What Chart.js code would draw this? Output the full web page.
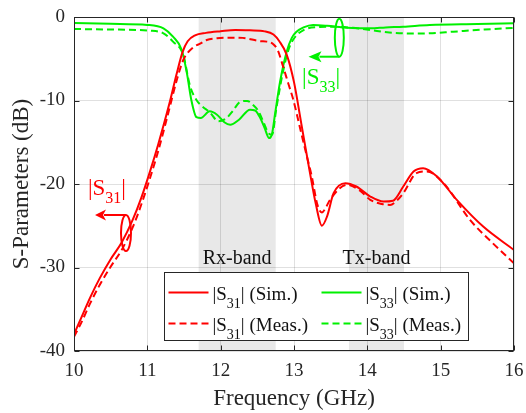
<!DOCTYPE html>
<html><head><meta charset="utf-8">
<script src="https://cdn.jsdelivr.net/npm/chart.js@4.4.1/dist/chart.umd.min.js"></script>
<style>html,body{margin:0;padding:0;background:#fff;}#wrap{width:526px;height:413px;}</style>
</head><body><div id="wrap"><canvas id="c" width="526" height="413"></canvas></div>
<script>
// ---------- data ----------
const xTicks = [10, 11, 12, 13, 14, 15, 16];
const yTicks = [-40, -30, -20, -10, 0];
const xTitle = 'Frequency (GHz)';
const yTitle = 'S-Parameters (dB)';

const s31SimF  = [10.0, 10.1, 10.22, 10.35, 10.5, 10.65, 10.8, 10.92, 11.04, 11.15, 11.3, 11.4, 11.48, 11.55, 11.65, 11.8, 12.0, 12.2, 12.4, 12.6, 12.72, 12.8, 12.9, 13.0, 13.1, 13.2, 13.3, 13.38, 13.45, 13.54, 13.7, 13.85, 14.04, 14.22, 14.35, 14.49, 14.63, 14.76, 14.95, 15.22, 15.58, 16.0];
const s31SimDb = [-38.0, -36.0, -33.6, -31.3, -29.0, -27.0, -24.3, -21.6, -18.4, -15.2, -10.4, -6.8, -4.2, -2.9, -2.2, -1.9, -1.7, -1.55, -1.6, -1.72, -2.1, -2.9, -4.5, -7.8, -12.8, -17.8, -22.5, -25.0, -23.9, -21.1, -19.9, -20.3, -21.5, -22.1, -22.0, -20.3, -18.5, -18.1, -19.1, -21.9, -25.1, -27.9];

const s31MeasF  = [10.0, 10.1, 10.22, 10.35, 10.5, 10.65, 10.8, 10.92, 11.04, 11.15, 11.3, 11.4, 11.49, 11.63, 11.72, 11.81, 11.95, 12.17, 12.3, 12.54, 12.63, 12.71, 12.78, 12.85, 12.92, 12.99, 13.08, 13.17, 13.24, 13.32, 13.38, 13.43, 13.49, 13.72, 13.9, 14.04, 14.2, 14.31, 14.4, 14.49, 14.67, 14.81, 15.04, 15.4, 15.7, 16.0];
const s31MeasDb = [-38.3, -36.6, -34.3, -32.1, -29.9, -27.9, -25.2, -22.4, -19.2, -16.0, -11.0, -7.6, -5.15, -3.6, -3.2, -2.75, -2.55, -2.48, -2.5, -2.9, -2.95, -3.2, -4.0, -5.9, -7.9, -9.9, -13.2, -16.5, -19.0, -22.5, -23.4, -22.9, -21.9, -20.1, -20.8, -21.9, -22.4, -22.5, -22.0, -21.1, -18.7, -18.5, -19.9, -24.3, -27.0, -29.5];

const s33SimF  = [10.0, 10.5, 11.0, 11.22, 11.35, 11.47, 11.54, 11.6, 11.67, 11.73, 11.85, 11.95, 12.05, 12.13, 12.25, 12.4, 12.47, 12.54, 12.6, 12.66, 12.7, 12.74, 12.81, 12.9, 12.97, 13.03, 13.13, 13.26, 13.45, 13.72, 14.04, 14.25, 14.49, 14.85, 15.5, 16.0];
const s33SimDb = [-0.72, -0.82, -0.95, -1.36, -2.36, -3.95, -6.75, -9.94, -12.0, -12.1, -11.3, -11.7, -12.6, -12.9, -12.3, -11.1, -11.2, -12.1, -13.3, -14.5, -14.0, -11.7, -7.75, -4.15, -2.5, -1.8, -1.25, -0.96, -1.05, -1.28, -1.36, -1.25, -1.16, -0.96, -0.85, -0.76];

const s33MeasF  = [10.0, 10.5, 11.04, 11.22, 11.35, 11.49, 11.58, 11.67, 11.75, 11.85, 11.97, 12.08, 12.17, 12.26, 12.36, 12.45, 12.51, 12.58, 12.65, 12.7, 12.76, 12.85, 12.93, 12.99, 13.13, 13.35, 13.58, 13.8, 14.04, 14.3, 14.6, 14.85, 15.17, 15.6, 16.0];
const s33MeasDb = [-1.44, -1.5, -1.64, -1.96, -2.95, -4.55, -8.2, -9.94, -10.7, -11.4, -12.5, -12.1, -11.2, -10.2, -10.05, -10.6, -11.2, -12.5, -13.9, -14.1, -10.9, -6.55, -3.8, -2.7, -1.56, -1.2, -1.16, -1.3, -1.56, -1.85, -1.98, -1.95, -1.76, -1.5, -1.3];

const seriesLabels = ['|S_{31}| (Sim.)', '|S_{31}| (Meas.)', '|S_{33}| (Sim.)', '|S_{33}| (Meas.)'];
const bandNames = ['Rx-band', 'Tx-band'];
const bandFrom = [11.7, 13.75];
const bandTo = [12.75, 14.5];
const curveLabels = ['|S_{31}|', '|S_{33}|'];

// ---------- styling / layout ----------
const FONT = "'Liberation Serif','Times New Roman',serif";
const AXC = '#262626';
const RED = '#ff0000', GREEN = '#00f000';
const pts = (f, d) => f.map((v, i) => ({x: v, y: d[i]}));

function parseRich(s) {
  const out = []; const re = /_\{([^}]*)\}/g; let last = 0, m;
  while ((m = re.exec(s))) {
    if (m.index > last) out.push({t: s.slice(last, m.index), sub: false});
    out.push({t: m[1], sub: true}); last = re.lastIndex;
  }
  if (last < s.length) out.push({t: s.slice(last), sub: false});
  return out;
}
function drawRich(ctx, s, x, y, size, subSize, subDy, color) {
  const segs = parseRich(s);
  ctx.save();
  ctx.textBaseline = 'alphabetic'; ctx.textAlign = 'left'; ctx.fillStyle = color;
  let cx = x;
  segs.forEach(g => {
    ctx.font = (g.sub ? subSize : size) + 'px ' + FONT;
    ctx.fillText(g.t, cx, y + (g.sub ? subDy : 0));
    cx += ctx.measureText(g.t).width;
  });
  ctx.restore();
}

const bandPlugin = {
  id: 'bands',
  beforeDraw(chart) {
    const {ctx, chartArea: a, scales: {x, y}} = chart;
    ctx.save();
    ctx.fillStyle = '#e8e8e8';
    bandFrom.forEach((f, i) => {
      const x0 = x.getPixelForValue(f), x1 = x.getPixelForValue(bandTo[i]);
      ctx.fillRect(x0, a.top, x1 - x0, a.bottom - a.top);
    });
    ctx.restore();
  }
};

const decoPlugin = {
  id: 'deco',
  afterDatasetsDraw(chart) {
    const {ctx, chartArea: a, scales: {x, y}} = chart;
    ctx.save();
    ctx.font = '20px ' + FONT; ctx.fillStyle = '#111'; ctx.textAlign = 'center'; ctx.textBaseline = 'alphabetic';
    bandNames.forEach((n, i) => {
      ctx.fillText(n, x.getPixelForValue((bandFrom[i] + bandTo[i]) / 2), y.getPixelForValue(-29.6));
    });
    const ann = [
      {lab: curveLabels[0], col: RED, tx: 10.19, ty: -21.3, ex: 10.709, ey: -25.87, rx: 5, ry: 18, top: true, tip: 95, ah: 11},
      {lab: curveLabels[1], col: GREEN, tx: 13.11, ty: -8.0, ex: 13.618, ey: -2.48, rx: 4.5, ry: 19, top: false, tip: 308.5, ah: 13}
    ];
    ann.forEach(o => {
      drawRich(ctx, o.lab, x.getPixelForValue(o.tx), y.getPixelForValue(o.ty), 23, 16, 8, o.col);
      const cx = x.getPixelForValue(o.ex), cy = y.getPixelForValue(o.ey);
      ctx.strokeStyle = o.col; ctx.fillStyle = o.col; ctx.lineWidth = 2;
      ctx.beginPath(); ctx.ellipse(cx, cy, o.rx, o.ry, 0, 0, Math.PI * 2); ctx.stroke();
      const ly = o.top ? cy - o.ry : cy + o.ry;
      const tipX = a.left + (o.tip - 74);
      ctx.beginPath(); ctx.moveTo(cx, ly); ctx.lineTo(tipX + o.ah - 2, ly); ctx.stroke();
      ctx.beginPath(); ctx.moveTo(tipX, ly); ctx.lineTo(tipX + o.ah, ly - 5.5); ctx.lineTo(tipX + o.ah - 3, ly); ctx.lineTo(tipX + o.ah, ly + 5.5); ctx.closePath(); ctx.fill();
    });
    ctx.restore();
  },
  afterDraw(chart) {
    const {ctx, chartArea: a, scales: {x, y}} = chart;
    ctx.save();
    ctx.strokeStyle = AXC; ctx.lineWidth = 1;
    const L = Math.round(a.left) + 0.5, R = Math.round(a.right) - 0.5, T = Math.round(a.top) + 0.5, B = Math.round(a.bottom) - 0.5;
    ctx.strokeRect(L, T, R - L, B - T);
    ctx.beginPath();
    xTicks.forEach(v => { const px = Math.round(x.getPixelForValue(v)) + 0.5; ctx.moveTo(px, B); ctx.lineTo(px, B - 5); ctx.moveTo(px, T); ctx.lineTo(px, T + 5); });
    yTicks.forEach(v => { const py = Math.round(y.getPixelForValue(v)) + 0.5; ctx.moveTo(L, py); ctx.lineTo(L + 5, py); ctx.moveTo(R, py); ctx.lineTo(R - 5, py); });
    ctx.stroke();
    const bx = a.left + 90.5, by = a.top + 255.5, bw = 304, bh = 68;
    ctx.fillStyle = '#fff'; ctx.fillRect(bx, by, bw, bh);
    ctx.strokeStyle = AXC; ctx.strokeRect(bx, by, bw, bh);
    const cols = [4, 157], rows = [20, 51];
    chart.data.datasets.forEach((ds, i) => {
      const c = Math.floor(i / 2), r = i % 2;
      const lx = bx + cols[c], ly = by + rows[r];
      ctx.strokeStyle = ds.borderColor; ctx.lineWidth = 2; ctx.setLineDash(ds.borderDash || []);
      ctx.beginPath(); ctx.moveTo(lx, ly); ctx.lineTo(lx + 40, ly); ctx.stroke();
      ctx.setLineDash([]);
      drawRich(ctx, ds.label, lx + 44, ly + 7, 19, 14, 8, '#111');
    });
    ctx.restore();
  }
};

const mkDs = (label, f, d, color, dash) => ({
  label, data: pts(f, d), borderColor: color, backgroundColor: color, borderWidth: 2,
  borderDash: dash ? [7, 4] : [], pointRadius: 0, fill: false, cubicInterpolationMode: 'monotone'
});

new Chart(document.getElementById('c'), {
  type: 'line',
  data: {
    datasets: [
      mkDs(seriesLabels[0], s31SimF, s31SimDb, RED, false),
      mkDs(seriesLabels[1], s31MeasF, s31MeasDb, RED, true),
      mkDs(seriesLabels[2], s33SimF, s33SimDb, GREEN, false),
      mkDs(seriesLabels[3], s33MeasF, s33MeasDb, GREEN, true)
    ]
  },
  options: {
    responsive: false, animation: false, devicePixelRatio: 1,
    layout: {padding: {left: 0, right: 12, top: 17, bottom: 0}},
    plugins: {legend: {display: false}, tooltip: {enabled: false}},
    scales: {
      x: {
        type: 'linear', min: 10, max: 16,
        afterBuildTicks: s => { s.ticks = xTicks.map(v => ({value: v})); },
        afterFit: s => { s.height = 62; s.paddingLeft = 0; s.paddingRight = 0; },
        grid: {color: 'rgba(0,0,0,0.12)', drawTicks: false},
        border: {display: false},
        ticks: {font: {family: FONT, size: 19}, color: AXC, padding: 9, maxRotation: 0},
        title: {display: true, text: xTitle, font: {family: FONT, size: 23}, color: AXC, padding: {top: 0, bottom: 0}}
      },
      y: {
        type: 'linear', min: -40, max: 0,
        afterBuildTicks: s => { s.ticks = yTicks.map(v => ({value: v})); },
        afterFit: s => { s.width = 74; s.paddingTop = 0; s.paddingBottom = 0; },
        grid: {color: 'rgba(0,0,0,0.12)', drawTicks: false},
        border: {display: false},
        ticks: {font: {family: FONT, size: 19}, color: AXC, padding: 9},
        title: {display: true, text: yTitle, font: {family: FONT, size: 23}, color: AXC, padding: {top: 8, bottom: 0}}
      }
    }
  },
  plugins: [bandPlugin, decoPlugin]
});
</script></body></html>
